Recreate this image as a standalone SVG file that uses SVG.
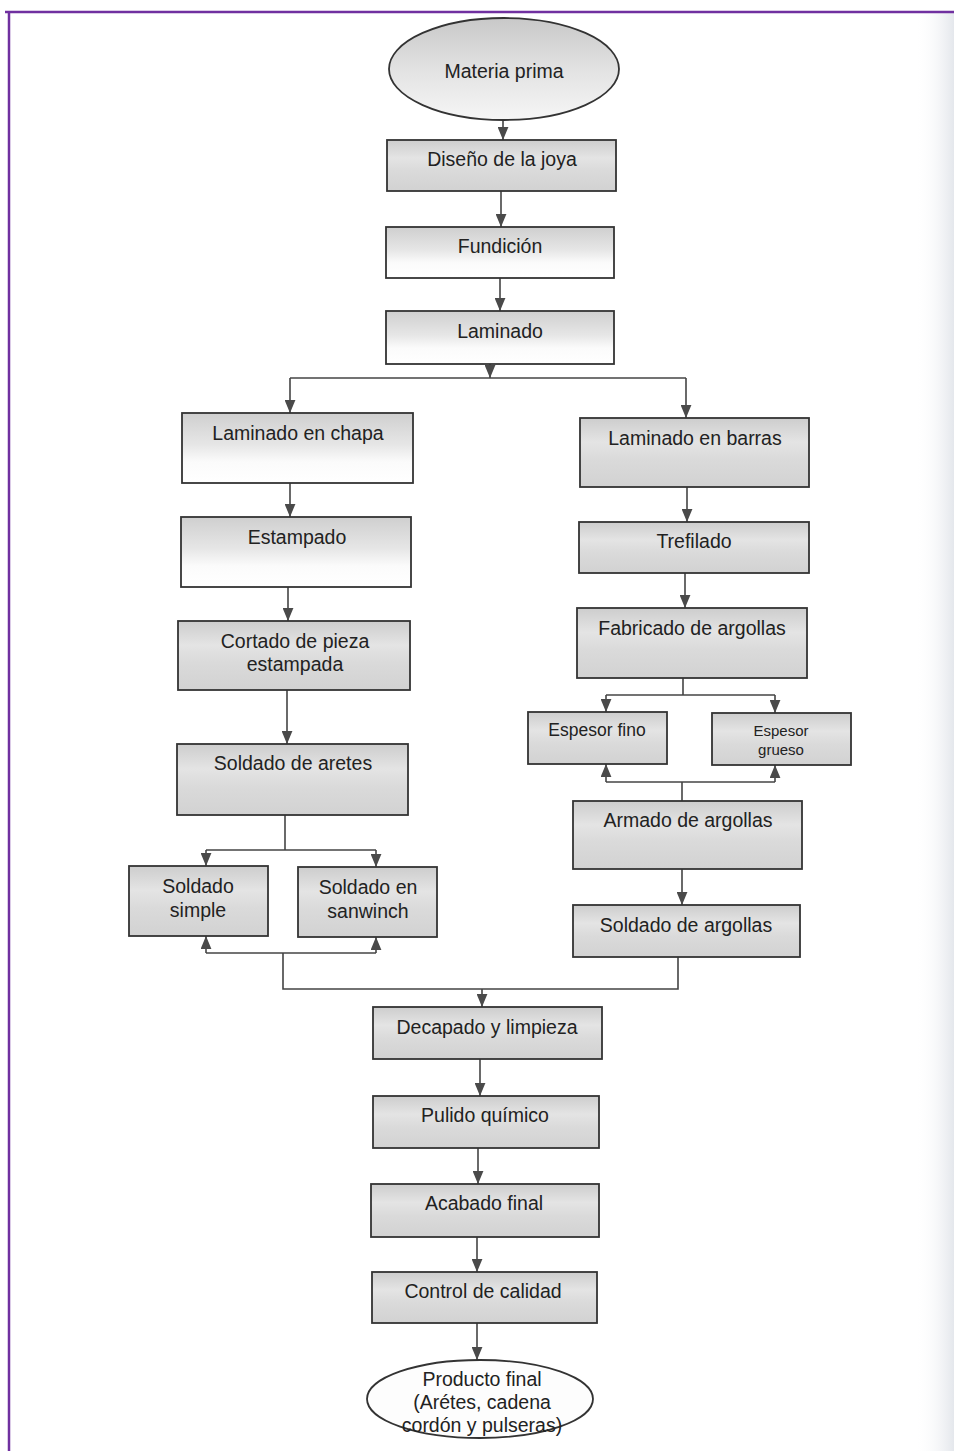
<svg xmlns="http://www.w3.org/2000/svg" width="954" height="1451" viewBox="0 0 954 1451">
<defs>
<linearGradient id="gBox" x1="0" y1="0" x2="0" y2="1">
<stop offset="0" stop-color="#cdcdcd"/>
<stop offset="0.35" stop-color="#e4e4e4"/>
<stop offset="0.6" stop-color="#dadada"/>
<stop offset="1" stop-color="#d2d2d2"/>
</linearGradient>
<linearGradient id="gTop" x1="0" y1="0" x2="0" y2="1">
<stop offset="0" stop-color="#cfcfcf"/>
<stop offset="0.45" stop-color="#e6e6e6"/>
<stop offset="0.7" stop-color="#fbfbfb"/>
<stop offset="1" stop-color="#ffffff"/>
</linearGradient>
<linearGradient id="gEll" x1="0" y1="0" x2="0" y2="1">
<stop offset="0" stop-color="#c8c8c8"/>
<stop offset="0.5" stop-color="#e2e2e2"/>
<stop offset="1" stop-color="#f6f6f6"/>
</linearGradient>
<linearGradient id="gEdge" x1="0" y1="0" x2="1" y2="0">
<stop offset="0" stop-color="#ffffff" stop-opacity="0"/>
<stop offset="1" stop-color="#e4e7ec"/>
</linearGradient>
<marker id="arr" viewBox="0 0 12 10" refX="12" refY="5" markerWidth="13" markerHeight="11" markerUnits="userSpaceOnUse" orient="auto">
<path d="M0,0 L12,5 L0,10 z" fill="#4a4a4a"/>
</marker>
<style>
.box{stroke:#333;stroke-width:1.8;fill:url(#gBox)}
.boxt{stroke:#333;stroke-width:1.8;fill:url(#gTop)}
.ell{stroke:#333;stroke-width:1.8}
.t{font-family:"Liberation Sans",Arial,sans-serif;font-size:19.5px;fill:#222;text-anchor:middle}
.ts{font-family:"Liberation Sans",Arial,sans-serif;font-size:15px;fill:#222;text-anchor:middle}
.c{fill:none;stroke:#444;stroke-width:1.6}
.ca{fill:none;stroke:#444;stroke-width:1.6;marker-end:url(#arr)}
</style>
</defs>
<rect x="0" y="0" width="954" height="1451" fill="#ffffff"/>
<rect x="915" y="12" width="39" height="1439" fill="url(#gEdge)"/>
<line x1="5" y1="12" x2="954" y2="12" stroke="#7030a0" stroke-width="2.5"/>
<line x1="9" y1="11" x2="9" y2="1451" stroke="#7030a0" stroke-width="2.5"/>

<g id="connectors">
<path class="ca" d="M503,120 V140"/>
<path class="ca" d="M501,191 V227"/>
<path class="ca" d="M500,278 V311"/>
<path class="ca" d="M490,364 V378"/>
<path class="c" d="M290,378 H686"/>
<path class="ca" d="M290,378 V413"/>
<path class="ca" d="M686,378 V418"/>
<path class="ca" d="M290,483 V517"/>
<path class="ca" d="M288,587 V621"/>
<path class="ca" d="M287,690 V744"/>
<path class="c" d="M285,815 V850"/>
<path class="c" d="M206,850 H376"/>
<path class="ca" d="M206,850 V866"/>
<path class="ca" d="M376,850 V867"/>
<path class="ca" d="M206,953 V936"/>
<path class="ca" d="M376,953 V937"/>
<path class="c" d="M206,953 H376"/>
<path class="c" d="M283,953 V989 H678 V957"/>
<path class="ca" d="M482,989 V1007"/>
<path class="ca" d="M687,487 V522"/>
<path class="ca" d="M685,573 V608"/>
<path class="c" d="M683,678 V695"/>
<path class="c" d="M606,695 H775"/>
<path class="ca" d="M606,695 V712"/>
<path class="ca" d="M775,695 V713"/>
<path class="ca" d="M606,782 V764"/>
<path class="ca" d="M775,782 V765"/>
<path class="c" d="M606,782 H775"/>
<path class="c" d="M682,782 V801"/>
<path class="ca" d="M682,869 V905"/>
<path class="ca" d="M480,1059 V1096"/>
<path class="ca" d="M478,1148 V1184"/>
<path class="ca" d="M477,1237 V1272"/>
<path class="ca" d="M477,1323 V1360"/>
</g>

<g id="n_materia">
<ellipse class="ell" cx="504" cy="69" rx="115" ry="51" fill="url(#gEll)"/>
<text class="t" x="504" y="78">Materia prima</text>
</g>
<g id="n_diseno">
<rect class="box" x="387" y="140" width="229" height="51"/>
<text class="t" x="502" y="166">Diseño de la joya</text>
</g>
<g id="n_fundicion">
<rect class="boxt" x="386" y="227" width="228" height="51"/>
<text class="t" x="500" y="253">Fundición</text>
</g>
<g id="n_laminado">
<rect class="boxt" x="386" y="311" width="228" height="53"/>
<text class="t" x="500" y="338">Laminado</text>
</g>
<g id="n_chapa">
<rect class="boxt" x="182" y="413" width="231" height="70"/>
<text class="t" x="298" y="440">Laminado en chapa</text>
</g>
<g id="n_estampado">
<rect class="boxt" x="181" y="517" width="230" height="70"/>
<text class="t" x="297" y="544">Estampado</text>
</g>
<g id="n_cortado">
<rect class="box" x="178" y="621" width="232" height="69"/>
<text class="t" x="295" y="648">Cortado de pieza</text>
<text class="t" x="295" y="671">estampada</text>
</g>
<g id="n_soldado_aretes">
<rect class="box" x="177" y="744" width="231" height="71"/>
<text class="t" x="293" y="770">Soldado de aretes</text>
</g>
<g id="n_soldado_simple">
<rect class="box" x="129" y="866" width="139" height="70"/>
<text class="t" x="198" y="893">Soldado</text>
<text class="t" x="198" y="917">simple</text>
</g>
<g id="n_sanwinch">
<rect class="box" x="298" y="867" width="139" height="70"/>
<text class="t" x="368" y="894">Soldado en</text>
<text class="t" x="368" y="918">sanwinch</text>
</g>
<g id="n_barras">
<rect class="box" x="580" y="418" width="229" height="69"/>
<text class="t" x="695" y="445">Laminado en barras</text>
</g>
<g id="n_trefilado">
<rect class="box" x="579" y="522" width="230" height="51"/>
<text class="t" x="694" y="548">Trefilado</text>
</g>
<g id="n_fabricado">
<rect class="box" x="577" y="608" width="230" height="70"/>
<text class="t" x="692" y="635">Fabricado de argollas</text>
</g>
<g id="n_fino">
<rect class="box" x="528" y="712" width="139" height="52"/>
<text class="ts" x="597" y="736" style="font-size:17.5px">Espesor fino</text>
</g>
<g id="n_grueso">
<rect class="box" x="712" y="713" width="139" height="52"/>
<text class="ts" x="781" y="736">Espesor</text>
<text class="ts" x="781" y="755">grueso</text>
</g>
<g id="n_armado">
<rect class="box" x="573" y="801" width="229" height="68"/>
<text class="t" x="688" y="827">Armado de argollas</text>
</g>
<g id="n_soldado_argollas">
<rect class="box" x="573" y="905" width="227" height="52"/>
<text class="t" x="686" y="932">Soldado de argollas</text>
</g>
<g id="n_decapado">
<rect class="box" x="373" y="1007" width="229" height="52"/>
<text class="t" x="487" y="1034">Decapado y limpieza</text>
</g>
<g id="n_pulido">
<rect class="box" x="373" y="1096" width="226" height="52"/>
<text class="t" x="485" y="1122">Pulido químico</text>
</g>
<g id="n_acabado">
<rect class="box" x="371" y="1184" width="228" height="53"/>
<text class="t" x="484" y="1210">Acabado final</text>
</g>
<g id="n_control">
<rect class="box" x="372" y="1272" width="225" height="51"/>
<text class="t" x="483" y="1298">Control de calidad</text>
</g>
<g id="n_producto">
<ellipse class="ell" cx="480" cy="1399" rx="113" ry="39" fill="#fdfdfd"/>
<text class="t" x="482" y="1386">Producto final</text>
<text class="t" x="482" y="1409">(Arétes, cadena</text>
<text class="t" x="482" y="1432">cordón y pulseras)</text>
</g>
</svg>
